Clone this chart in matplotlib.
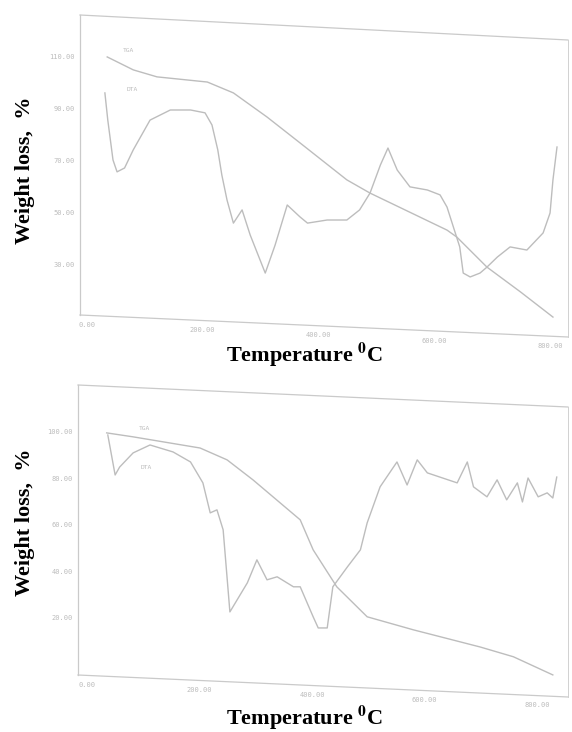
import matplotlib
matplotlib.use('Agg')
import matplotlib.pyplot as plt

plt.rcParams['mathtext.fontset'] = 'stix'

# ---- upper sample ----
top_tga_t = [35, 80, 121, 208, 253, 311, 368, 449, 489, 622, 639, 691, 749, 805]
top_tga_w = [110, 105, 102.3, 100.3, 96.1, 86.8, 76.8, 62.5, 57.4, 43.1, 40.4, 28.8, 19.2, 9.5]

top_dta_t = [31, 36, 45, 52, 65, 80, 109, 144, 179, 204, 216, 226, 233, 242, 253, 268, 282,
             308, 325, 346, 368, 381, 415, 449, 471, 489, 507, 520, 536, 558, 588, 610, 622,
             633, 644, 650, 662, 679, 691, 709, 731, 760, 788, 800, 805, 812]
top_dta_w = [96.1, 85.6, 70.2, 65.6, 67.1, 74.1, 85.6, 89.5, 89.5, 88.4, 83.7, 74.1, 64.4,
             54.7, 45.8, 50.9, 41.2, 26.5, 37.3, 52.8, 48.2, 45.8, 47.0, 47.0, 50.9, 57.4,
             68.3, 74.8, 66.3, 59.8, 58.6, 56.7, 52.0, 44.3, 36.6, 26.5, 25.0, 26.5, 28.8,
             32.7, 36.6, 35.4, 42.0, 49.7, 62.5, 75.2]

top_yticks = [110, 90, 70, 50, 30]
top_ylabels = ['110.00', '90.00', '70.00', '50.00', '30.00']

# ---- lower sample ----
bot_tga_t = [35, 82, 201, 249, 295, 379, 402, 444, 498, 580, 699, 758, 828]
bot_tga_w = [99.6, 97.9, 93.1, 88.0, 79.4, 62.2, 49.3, 33.4, 20.5, 14.9, 7.5, 3.3, -4.5]

bot_dta_t = [37, 50, 58, 82, 112, 153, 184, 206, 219, 231, 242, 254, 285, 302, 320, 338,
             367, 379, 402, 411, 427, 437, 463, 486, 498, 521, 551, 569, 587, 605, 658, 676,
             687, 711, 729, 746, 765, 774, 784, 802, 818, 828, 835]
bot_dta_w = [98.7, 81.5, 84.9, 91.0, 94.4, 91.4, 87.1, 78.1, 65.2, 66.5, 57.9, 22.6, 35.1,
             45.0, 36.4, 37.7, 33.4, 33.4, 20.5, 15.7, 15.7, 33.4, 42.0, 49.3, 60.9, 76.4,
             87.1, 77.2, 88.0, 82.4, 78.1, 87.1, 76.4, 72.1, 79.4, 70.8, 78.1, 69.9, 80.2,
             72.1, 73.8, 71.6, 80.6]

bot_yticks = [100, 80, 60, 40, 20]
bot_ylabels = ['100.00', '80.00', '60.00', '40.00', '20.00']

xticks = [0, 200, 400, 600, 800]
xlabels = ['0.00', '200.00', '400.00', '600.00', '800.00']

LINE = '#bdbdbd'
FRAME = '#cacaca'
TICK = '#bcbcbc'

W, H = 572, 732


def px_axes(left, top, right, bottom):
    return [left / W, 1 - bottom / H, (right - left) / W, (bottom - top) / H]


def draw_panel(fig, rect, xlim, ylim, tga, dta, yticks, ylabels, top_drop, bot_rise,
               tga_pos, dta_pos):
    ax = fig.add_axes(rect)
    ax.plot(tga[0], tga[1], color=LINE, lw=1.0, solid_joinstyle='round')
    ax.plot(dta[0], dta[1], color=LINE, lw=1.0, solid_joinstyle='round')
    ax.set_xlim(*xlim)
    ax.set_ylim(*ylim)
    for s in ax.spines.values():
        s.set_visible(False)

    # slightly skewed frame, like the scanned original
    kw = dict(transform=ax.transAxes, color=FRAME, lw=0.9, clip_on=False)
    ax.plot([0, 1], [1, 1 - top_drop], **kw)
    ax.plot([0, 1], [bot_rise, 0], **kw)
    ax.plot([0, 0], [bot_rise, 1], **kw)
    ax.plot([1, 1], [0, 1 - top_drop], color=FRAME, lw=0.6,
            transform=ax.transAxes, clip_on=False)

    ax.set_yticks(yticks)
    ax.set_yticklabels(ylabels)
    ax.tick_params(axis='y', length=0, pad=4, labelsize=5, labelcolor=TICK)
    for lab in ax.get_yticklabels():
        lab.set_family('DejaVu Sans Mono')
    ax.set_xticks([])

    # x tick labels follow the sloped bottom line
    x0, x1 = xlim
    for t, lab in zip(xticks, xlabels):
        fx = (t - x0) / (x1 - x0)
        fy = bot_rise * (1 - fx)
        ax.text(fx, fy - 0.03, lab, transform=ax.transAxes, ha='center', va='center',
                fontsize=5, color=TICK, family='DejaVu Sans Mono')

    ax.text(tga_pos[0], tga_pos[1], 'TGA', fontsize=4.5, color=TICK, family='DejaVu Sans Mono')
    ax.text(dta_pos[0], dta_pos[1], 'DTA', fontsize=4.5, color=TICK, family='DejaVu Sans Mono')
    return ax


fig = plt.figure(figsize=(W / 100, H / 100), dpi=100)

draw_panel(fig, px_axes(80, 15, 568, 337), (-12, 831), (1.8, 126.2),
           (top_tga_t, top_tga_w), (top_dta_t, top_dta_w), top_yticks, top_ylabels,
           25 / 322, 22 / 322, (62, 112), (68, 97))

draw_panel(fig, px_axes(78, 385, 568, 697), (-16, 855), (-14.0, 120.2),
           (bot_tga_t, bot_tga_w), (bot_dta_t, bot_dta_w), bot_yticks, bot_ylabels,
           22 / 312, 22 / 312, (92, 101), (96, 84))

lab_kw = dict(fontsize=16, fontweight='bold', family='Liberation Serif', color='black')
fig.text(25 / W, 1 - 170 / H, 'Weight loss,  %', rotation=90, ha='center', va='center', **lab_kw)
fig.text(25 / W, 1 - 522 / H, 'Weight loss,  %', rotation=90, ha='center', va='center', **lab_kw)
fig.text(305 / W, 1 - 355 / H, r'Temperature $^{\mathbf{0}}$C', ha='center', va='center', **lab_kw)
fig.text(305 / W, 1 - 718 / H, r'Temperature $^{\mathbf{0}}$C', ha='center', va='center', **lab_kw)

plt.savefig('out.png', dpi=100)
